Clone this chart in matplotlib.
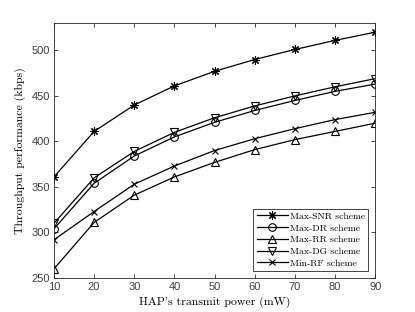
import matplotlib
matplotlib.use("Agg")
import matplotlib.pyplot as plt

power = [10, 20, 30, 40, 50, 60, 70, 80, 90]
max_snr = [361, 411, 440, 461, 477, 490, 501, 511, 520]
max_dr = [304, 354, 384, 405, 421, 434, 445, 455, 463]
max_rr = [260, 311, 341, 361, 377, 391, 402, 411, 420]
max_dg = [310, 360, 389, 410, 426, 439, 450, 460, 469]
min_rf = [292, 323, 353, 373, 390, 403, 414, 424, 432]

# (label, values, marker, size)
series = [
    ("Max-SNR scheme", max_snr, (8, 2, 0), 6),
    ("Max-DR scheme", max_dr, "o", 5.5),
    ("Max-RR scheme", max_rr, "^", 6),
    ("Max-DG scheme", max_dg, "v", 6),
    ("Min-RF scheme", min_rf, "x", 4.5),
]

serif = ["cmr10", "DejaVu Serif"]

fig = plt.figure(figsize=(4.15, 3.12), dpi=100)
ax = fig.add_axes([0.130, 0.109, 0.774, 0.817])
for label, vals, mk, ms in series:
    ax.plot(power, vals, color="black", lw=0.9, marker=mk, markersize=ms,
            markerfacecolor="none", markeredgecolor="black", markeredgewidth=0.8,
            label=label)

ax.set_xlim(10, 90)
ax.set_ylim(250, 530)
ax.set_xticks(range(10, 91, 10))
ax.set_yticks(range(250, 501, 50))
ax.tick_params(direction="in", top=True, right=True, labelsize=8, length=3,
               width=0.6, colors="#262626", pad=3)
for t in ax.get_xticklabels() + ax.get_yticklabels():
    t.set_color("#404040")
    t.set_family("Liberation Sans")
for sp in ax.spines.values():
    sp.set_linewidth(0.6)
    sp.set_color("#262626")

ax.set_xlabel("HAP's transmit power (mW)", family=serif, fontsize=8.5, labelpad=3)
ax.set_ylabel("Throughput performance (kbps)", family=serif, fontsize=8.5, labelpad=4)

leg = ax.legend(loc="lower right", prop={"family": serif, "size": 7}, fancybox=False,
                edgecolor="#262626", framealpha=1, borderpad=0.35, labelspacing=0.3,
                handlelength=3.2, handletextpad=0.2, borderaxespad=0.7)
leg.get_frame().set_linewidth(0.6)

fig.savefig("out.png", dpi=100)
